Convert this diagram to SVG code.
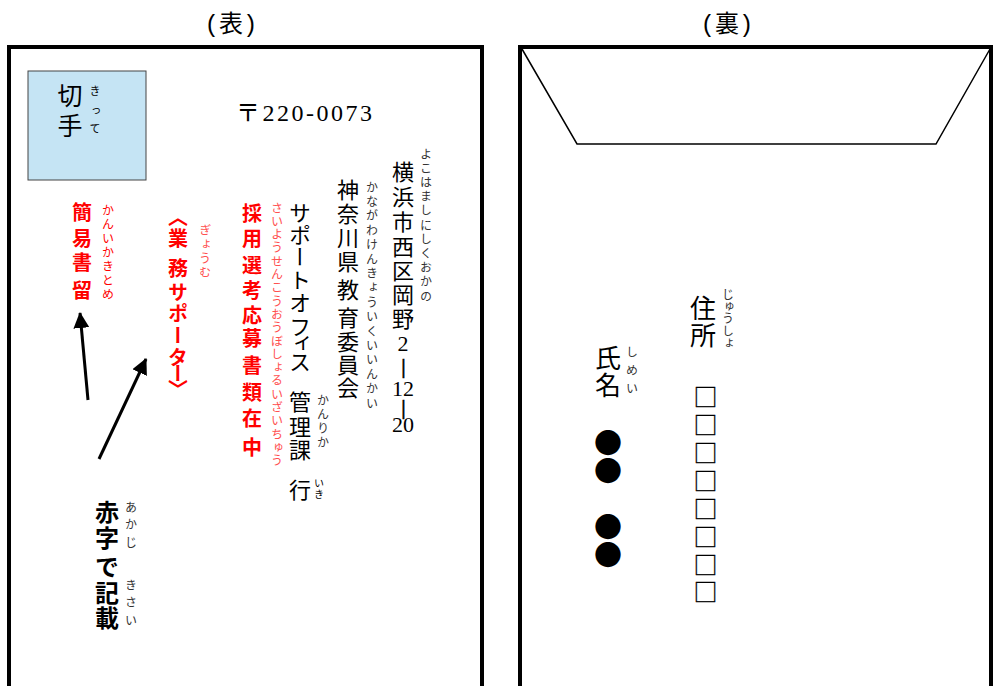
<svg xmlns="http://www.w3.org/2000/svg" width="994" height="686" viewBox="0 0 994 686">
<style>
text{font-family:"Noto Sans CJK JP",sans-serif;fill:#000;}
.s{font-family:"Liberation Serif","Noto Sans CJK JP",serif;}
.t{font-family:"Liberation Mono","Noto Sans CJK JP",monospace;font-size:24px;text-anchor:middle;dominant-baseline:central;}
.v{writing-mode:vertical-rl;}
.c{text-anchor:middle;}
.r{font-size:12px;fill:#333;}
.red{fill:#ff0000;}
.pink{fill:#ff5050;}
.b{font-weight:bold;}
.bar{stroke:#000;stroke-width:0.7;}
.frame{fill:none;stroke:#000;stroke-width:4;}
.arr{stroke:#000;stroke-width:3;fill:none;marker-end:url(#ah);}
</style>
<defs>
<marker id="ah" markerUnits="userSpaceOnUse" markerWidth="16" markerHeight="16" viewBox="0 0 16 16" refX="15" refY="8" orient="auto"><path d="M0,0 L16,8 L0,16 Z" fill="#000"/></marker>
</defs>
<rect width="994" height="686" fill="#fff"/>

<g id="titles">
<text class="t" x="231" y="25">(表)</text>
<text class="t" x="727" y="25">(裏)</text>
</g>

<g id="front-envelope">
<path class="frame" d="M9,688 V47 H482 V688"/>
</g>

<g id="back-envelope">
<path class="frame" d="M520,688 V47 H991 V688"/>
<polyline points="522,49 577,144 936,144 990,49" fill="none" stroke="#000" stroke-width="1.5"/>
</g>

<g id="stamp">
<rect x="28" y="71" width="118" height="109" fill="#c5e4f4" stroke="#444" stroke-width="1"/>
<text class="v c" x="70" font-size="25"><tspan y="95">切</tspan><tspan y="125">手</tspan></text>
<text class="v c" x="95" font-size="11" fill="#333"><tspan y="91">き</tspan><tspan y="111">っ</tspan><tspan y="129">て</tspan></text>
</g>

<g id="postal-code">
<text class="s" x="236" y="121" font-size="24" textLength="136" lengthAdjust="spacing">〒220-0073</text>
</g>

<g id="address">
<text class="s c" font-size="22" dominant-baseline="central"><tspan x="403" y="172">横</tspan><tspan x="403" y="197">浜</tspan><tspan x="403" y="222">市</tspan><tspan x="403" y="247">西</tspan><tspan x="403" y="271">区</tspan><tspan x="403" y="295">岡</tspan><tspan x="403" y="319">野</tspan><tspan x="403" y="343">2</tspan><tspan class="bar" x="403.5" y="365">|</tspan><tspan x="403" y="388">12</tspan><tspan class="bar" x="403.5" y="406">|</tspan><tspan x="403" y="424">20</tspan></text>
<text class="v r" x="426" y="148" letter-spacing="2.2">よこはましにしくおかの</text>
<text class="v c" x="348" font-size="22"><tspan y="190">神</tspan><tspan y="214">奈</tspan><tspan y="238">川</tspan><tspan y="262">県</tspan><tspan y="290">教</tspan><tspan y="318">育</tspan><tspan y="342">委</tspan><tspan y="365">員</tspan><tspan y="388">会</tspan></text>
<text class="v r" x="372" y="181" letter-spacing="2.4">かながわけんきょういくいいんかい</text>
</g>

<g id="recipient">
<text class="v c" x="300" font-size="22"><tspan y="213">サ</tspan><tspan y="235">ポ</tspan><tspan y="257">ー</tspan><tspan y="280">ト</tspan><tspan y="303">オ</tspan><tspan y="327">フ</tspan><tspan y="343">ィ</tspan><tspan y="362">ス</tspan><tspan y="402">管</tspan><tspan y="427">理</tspan><tspan y="450">課</tspan><tspan y="490">行</tspan></text>
<text class="v r" x="323" y="394" letter-spacing="2">かんりか</text>
<text class="v" x="319" y="478" font-size="10" fill="#333" letter-spacing="1">いき</text>
</g>

<g id="enclosure-note">
<text class="v c red b" x="252" font-size="20"><tspan y="213">採</tspan><tspan y="238">用</tspan><tspan y="265">選</tspan><tspan y="290">考</tspan><tspan y="315">応</tspan><tspan y="338">募</tspan><tspan y="365">書</tspan><tspan y="392">類</tspan><tspan y="418">在</tspan><tspan y="447">中</tspan></text>
<text class="v pink" x="277" y="202" font-size="12" letter-spacing="1.3">さいようせんこうおうぼしょるいざいちゅう</text>
</g>

<g id="registered-note">
<text class="v c red b" x="82" font-size="20"><tspan y="212">簡</tspan><tspan y="238">易</tspan><tspan y="262">書</tspan><tspan y="290">留</tspan></text>
<text class="v red" x="108" y="204" font-size="12" letter-spacing="2.1">かんいかきとめ</text>
</g>

<g id="job-note">
<text class="v c red b" x="178" font-size="20"><tspan y="217">〈</tspan><tspan y="238">業</tspan><tspan y="268">務</tspan><tspan y="292">サ</tspan><tspan y="313">ポ</tspan><tspan y="335">ー</tspan><tspan y="357">タ</tspan><tspan y="373">ー</tspan><tspan y="389">〉</tspan></text>
<text class="v pink" x="205" y="224" font-size="12" letter-spacing="2.3">ぎょうむ</text>
</g>

<g id="red-ink-note">
<text class="v c b" x="107" font-size="24"><tspan y="512">赤</tspan><tspan y="538">字</tspan><tspan y="567">で</tspan><tspan y="593">記</tspan><tspan y="618">載</tspan></text>
<text class="v r" x="131" y="501" letter-spacing="5.5">あかじ</text>
<text class="v r" x="131" y="579" letter-spacing="5.5">きさい</text>
</g>

<g id="connectors">
<path class="arr" d="M88,400 L80,313"/>
<path class="arr" d="M99,459 L146,359"/>
</g>

<g id="sender-address">
<text class="v c" x="703" font-size="26"><tspan y="308">住</tspan><tspan y="335">所</tspan></text>
<text class="v r" x="728" y="288" letter-spacing="0.4">じゅうしょ</text>
<text class="v" x="705.5" y="385" font-size="24" letter-spacing="3.9" stroke="#000" stroke-width="0.3">□□□□□□□□</text>
</g>

<g id="sender-name">
<text class="v c" x="608" font-size="26"><tspan y="358">氏</tspan><tspan y="385">名</tspan></text>
<text class="v r" x="632" y="346" letter-spacing="6">しめい</text>
<text class="v" x="608" y="429" font-size="28">●●　●●</text>
</g>
</svg>
